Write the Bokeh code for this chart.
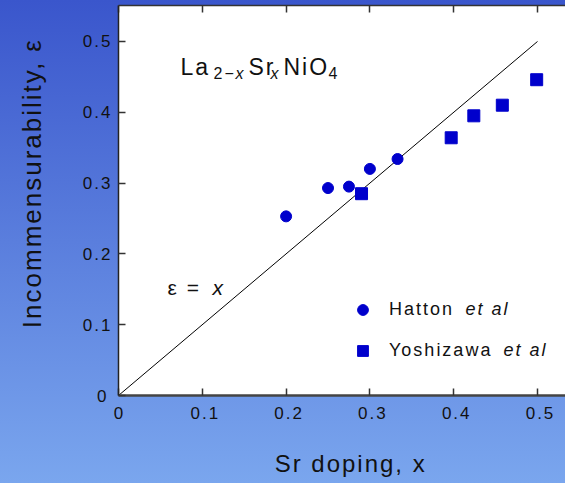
from bokeh.plotting import figure
from bokeh.models import Range1d, LinearAxis, Label, Legend, LegendItem, FixedTicker
from bokeh.embed import file_html
from bokeh.resources import INLINE

# ---- data ----
hatton_x = [0.200, 0.250, 0.275, 0.300, 0.333]
hatton_y = [0.253, 0.293, 0.295, 0.320, 0.334]
yoshizawa_x = [0.290, 0.397, 0.424, 0.458, 0.499]
yoshizawa_y = [0.285, 0.364, 0.395, 0.410, 0.446]
line_x = [0.0, 0.5]
line_y = [0.0, 0.5]
ticks = [0.0, 0.1, 0.2, 0.3, 0.4, 0.5]
tick_labels = ["0", "0.1", "0.2", "0.3", "0.4", "0.5"]

FONT = "Liberation Sans"
TXT = "#111111"
MARK = "#0000cc"

p = figure(width=565, height=483, output_backend="svg", toolbar_location=None,
           x_range=Range1d(0, 0.5334), y_range=Range1d(0, 0.5508),
           min_border_left=118, min_border_right=0, min_border_top=5, min_border_bottom=88,
           background_fill_color="white", border_fill_color=None, outline_line_color=None,
           x_axis_type=None, y_axis_type=None)
p.styles = {"background": "linear-gradient(to bottom, #3a56cc 0%, #7aa6ee 100%)",
            "letter-spacing": "2px"}
p.grid.visible = False

overrides = {t: l for t, l in zip(ticks, tick_labels)}

def make_axis(width=1.5, color="#333333"):
    return LinearAxis(ticker=FixedTicker(ticks=ticks), major_label_overrides=overrides,
                      major_tick_in=7, major_tick_out=0, minor_tick_line_color=None,
                      axis_line_color=color, axis_line_width=width,
                      major_tick_line_color="#333333", major_tick_line_width=1.5,
                      major_label_text_font=FONT, major_label_text_font_size="17px",
                      major_label_text_color=TXT,
                      axis_label_text_font=FONT, axis_label_text_color=TXT,
                      axis_label_text_font_style="normal")

bottom = make_axis(width=2.5, color="#444444")
bottom.major_label_standoff = 11
bottom.axis_label = "Sr doping,  x"
bottom.axis_label_text_font_size = "24px"
bottom.axis_label_standoff = 28

left = make_axis(width=1.5, color="#222222")
left.major_label_standoff = 12
left.axis_label = "Incommensurability,  \u03b5"
left.axis_label_text_font_size = "26px"
left.axis_label_standoff = 33

top = make_axis(width=1.5, color="#333333")
top.major_label_text_font_size = "1px"
top.major_label_text_color = None
top.major_label_standoff = 0

p.add_layout(bottom, "below")
p.add_layout(left, "left")
p.add_layout(top, "above")

# diagonal eps = x
p.line(line_x, line_y, line_color="black", line_width=1)

r1 = p.scatter(hatton_x, hatton_y, marker="circle", size=11, color=MARK)
r2 = p.scatter(yoshizawa_x, yoshizawa_y, marker="square", size=12, color=MARK)

legend = Legend(items=[LegendItem(label="Hatton", renderers=[r1]),
                       LegendItem(label="Yoshizawa", renderers=[r2])],
                location=(231, 31), padding=0, margin=0, spacing=14,
                glyph_width=27, glyph_height=27, label_height=27, label_standoff=13,
                label_text_font=FONT, label_text_font_size="18px", label_text_color=TXT,
                border_line_color=None, background_fill_alpha=0)
p.add_layout(legend)

def lab(text, x, y, size, italic=False, baseline="alphabetic"):
    p.add_layout(Label(text=text, x=x, y=y, text_font=FONT, text_font_size=size,
                       text_font_style="italic" if italic else "normal", text_color=TXT,
                       text_baseline=baseline, text_align="left"))

# legend "et al"
lab("et al", 0.4141, 0.1215, "18px", italic=True, baseline="middle")
lab("et al", 0.4594, 0.0636, "18px", italic=True, baseline="middle")

# formula La(2-x)Sr(x)NiO4
lab("La", 0.0740, 0.4633, "23px")
lab("2\u2212", 0.1134, 0.4548, "16px")
lab("x", 0.1396, 0.4548, "16px", italic=True)
lab("Sr", 0.1551, 0.4633, "23px")
lab("x", 0.1814, 0.4548, "16px", italic=True)
lab("NiO", 0.1969, 0.4633, "23px")
lab("4", 0.2506, 0.4548, "16px")

# eps = x annotation
lab("\u03b5 =", 0.0585, 0.1525, "21px")
lab("x", 0.1122, 0.1525, "21px", italic=True)

open("out.html", "w").write(file_html(p, INLINE))
